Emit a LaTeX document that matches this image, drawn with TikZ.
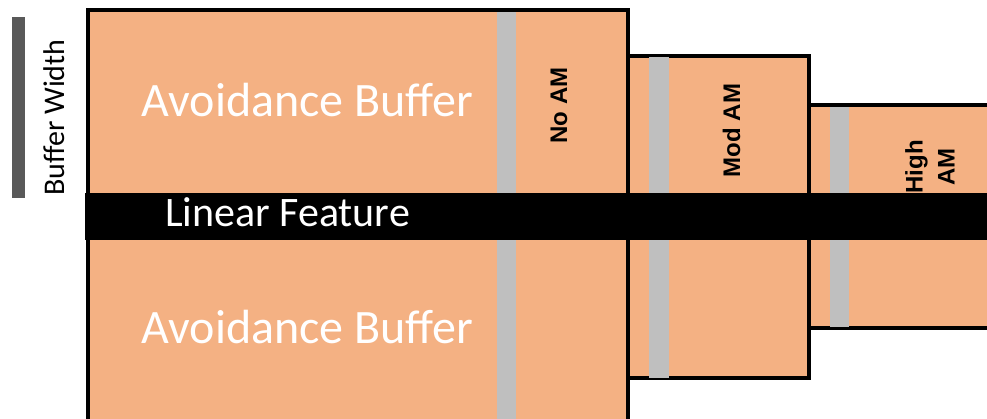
\documentclass[tikz,border=0pt]{standalone}
\usepackage{fontspec}
\setmainfont{Carlito}
\newfontfamily\amfont{Liberation Sans}
\definecolor{salmon}{HTML}{F4B183}
\definecolor{lgray}{HTML}{BFBFBF}
\definecolor{dgray}{HTML}{595959}
\begin{document}
\begin{tikzpicture}[x=1pt,y=-1pt,
  buf/.style={fill=salmon, draw=black, line width=4pt},
  gbar/.style={fill=lgray, draw=none},
  big/.style={text=white, inner sep=0pt, font=\fontsize{48}{56}\selectfont},
  lbl/.style={text=black, inner sep=0pt, rotate=90, font=\fontsize{30}{36}\selectfont},
  am/.style={text=black, inner sep=0pt, rotate=90, align=center, font=\amfont\bfseries\fontsize{24}{32}\selectfont}]
\useasboundingbox (0,0) rectangle (987,419);
\clip (0,0) rectangle (987,419);
% scale bar
\fill[dgray] (12,17) rectangle (25,198);
\node[lbl, anchor=base] (bw) at (64,117.5) {Buffer Width};
% buffer boxes
\draw[buf] (87.5,10.5) rectangle (628,421);
\draw[buf] (628,56.5) rectangle (808.5,377.5);
\draw[buf] (808.5,105.5) rectangle (1000,327.5);
% grey bars
\fill[gbar] (497,12) rectangle (516,419);
\fill[gbar] (649,57) rectangle (669,378);
\fill[gbar] (830,107) rectangle (849,327);
% linear feature
\fill[black] (85,193) rectangle (990,240);
\node[text=white, inner sep=0pt, anchor=base, font=\fontsize{42}{48}\selectfont] (lf) at (287.5,227) {Linear Feature};
% labels
\node[big, anchor=base] (ab1) at (307.5,117) {Avoidance Buffer};
\node[big, anchor=base] (ab2) at (307.5,343) {Avoidance Buffer};
\node[am, anchor=base] (noam) at (567,105.5) {No AM};
\node[am, anchor=base] (modam) at (740,130.5) {Mod AM};
\node[am] (higham) at (930,167) {High\\AM};
\end{tikzpicture}
\end{document}
